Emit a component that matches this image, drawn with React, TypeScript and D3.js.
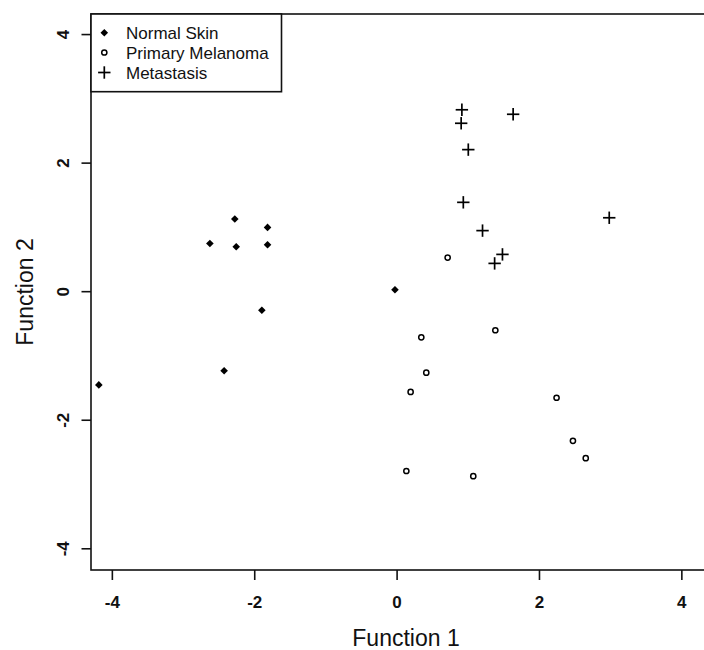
import React from "react";
import * as d3 from "d3";

const normalX = [-2.28, -1.82, -2.63, -2.26, -1.82, -0.03, -1.9, -2.43, -4.19];
const normalY = [1.13, 1.0, 0.75, 0.7, 0.73, 0.03, -0.29, -1.23, -1.45];

const primaryX = [0.71, 0.34, 1.38, 0.41, 0.19, 2.24, 2.47, 2.65, 0.13, 1.07];
const primaryY = [0.53, -0.71, -0.6, -1.26, -1.56, -1.65, -2.32, -2.59, -2.79, -2.87];

const metaX = [0.91, 0.9, 1.63, 1.0, 0.93, 2.98, 1.2, 1.48, 1.37];
const metaY = [2.83, 2.62, 2.76, 2.21, 1.39, 1.15, 0.95, 0.58, 0.44];

const xTicks = [-4, -2, 0, 2, 4];
const yTicks = [-4, -2, 0, 2, 4];
const legendLabels = ["Normal Skin", "Primary Melanoma", "Metastasis"];

const W = 704;
const H = 650;
const left = 91;
const right = 721;
const top = 14;
const bottom = 570;

export default function App() {
  const x = d3.scaleLinear().domain([-4.3, 4.55]).range([left, right]);
  const y = d3.scaleLinear().domain([-4.33, 4.32]).range([bottom, top]);
  const font = "'Liberation Sans', Arial, Helvetica, sans-serif";

  const diamond = (cx: number, cy: number, r: number) =>
    `M${cx},${cy - r}L${cx + r},${cy}L${cx},${cy + r}L${cx - r},${cy}Z`;

  const plus = (cx: number, cy: number, r: number, key: string | number) => (
    <g key={key} stroke="#000" strokeWidth={1.7}>
      <line x1={cx - r} x2={cx + r} y1={cy} y2={cy} />
      <line x1={cx} x2={cx} y1={cy - r} y2={cy + r} />
    </g>
  );

  const legendRows = [32.7, 52.5, 72.5];

  return (
    <div style={{ position: "absolute", left: 0, top: 0, width: W, height: H, overflow: "hidden", background: "#fff" }}>
      <svg width={W} height={H} style={{ display: "block" }} fontFamily={font}>
        <rect x={0} y={0} width={W} height={H} fill="#fff" />
        {/* plot box */}
        <rect x={left} y={top} width={right - left} height={bottom - top} fill="none" stroke="#111" strokeWidth={1.6} />

        {/* x axis ticks */}
        {xTicks.map((t) => (
          <g key={"xt" + t}>
            <line x1={x(t)} x2={x(t)} y1={bottom} y2={bottom + 10} stroke="#111" strokeWidth={1.6} />
            <text x={x(t)} y={607.5} textAnchor="middle" fontSize={17} fontWeight="bold" fill="#111">
              {t}
            </text>
          </g>
        ))}
        {/* y axis ticks */}
        {yTicks.map((t) => (
          <g key={"yt" + t}>
            <line x1={left - 9.5} x2={left} y1={y(t)} y2={y(t)} stroke="#111" strokeWidth={1.6} />
            <text
              transform={`translate(68.5,${y(t)}) rotate(-90)`}
              textAnchor="middle"
              fontSize={17}
              fontWeight="bold"
              fill="#111"
            >
              {t}
            </text>
          </g>
        ))}

        {/* axis titles */}
        <text x={(left + right) / 2} y={646} textAnchor="middle" fontSize={23} fill="#111">
          Function 1
        </text>
        <text
          transform={`translate(33,${(top + bottom) / 2}) rotate(-90)`}
          textAnchor="middle"
          fontSize={23}
          fill="#111"
        >
          Function 2
        </text>

        {/* points */}
        {normalX.map((v, i) => (
          <path key={"n" + i} d={diamond(x(v), y(normalY[i]), 3.8)} fill="#000" />
        ))}
        {primaryX.map((v, i) => (
          <circle key={"p" + i} cx={x(v)} cy={y(primaryY[i])} r={2.6} fill="none" stroke="#000" strokeWidth={1.5} />
        ))}
        {metaX.map((v, i) => plus(x(v), y(metaY[i]), 6.2, "m" + i))}

        {/* legend */}
        <rect x={left} y={top} width={281.5 - left} height={91.7 - top} fill="#fff" stroke="#111" strokeWidth={1.6} />
        <path d={diamond(104.3, legendRows[0], 3.8)} fill="#000" />
        <circle cx={104.3} cy={legendRows[1]} r={2.6} fill="none" stroke="#000" strokeWidth={1.5} />
        {plus(104.3, legendRows[2], 6.2, "lm")}
        {legendLabels.map((l, i) => (
          <text key={l} x={126} y={legendRows[i] + 6} fontSize={17} fill="#111">
            {l}
          </text>
        ))}
      </svg>
    </div>
  );
}
